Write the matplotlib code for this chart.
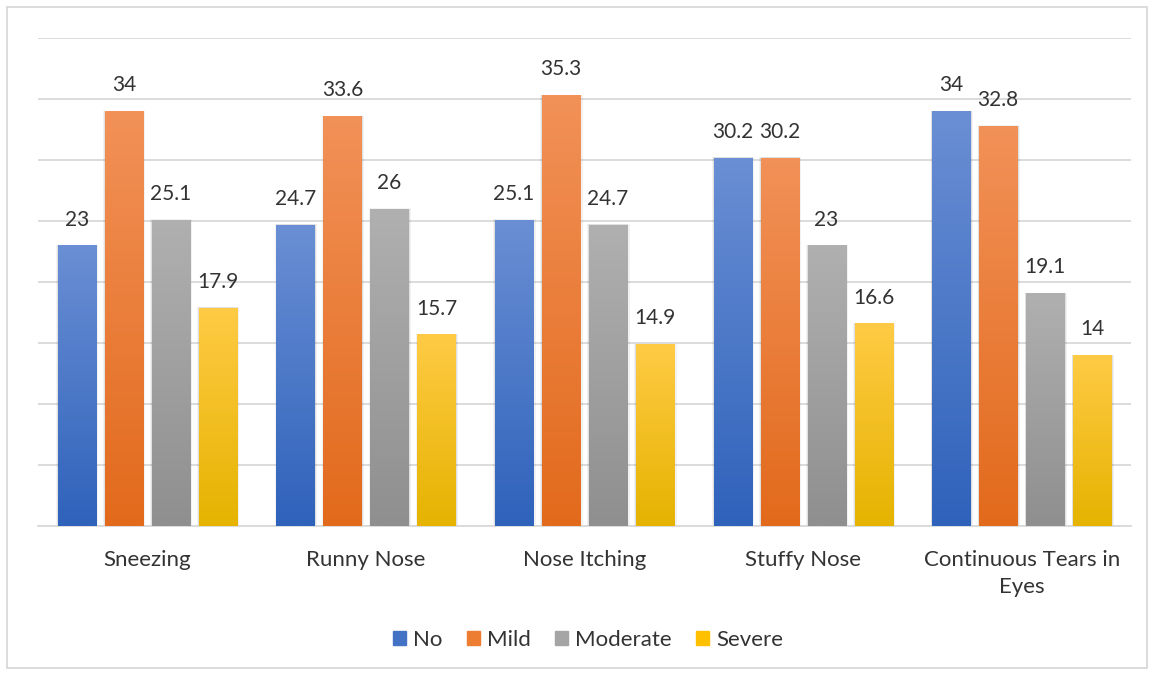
import matplotlib
matplotlib.use("Agg")
import matplotlib.pyplot as plt
import numpy as np
from matplotlib.colors import LinearSegmentedColormap
from matplotlib.patches import Rectangle

categories = ["Sneezing", "Runny Nose", "Nose Itching", "Stuffy Nose",
              "Continuous Tears in\nEyes"]
no = [23, 24.7, 25.1, 30.2, 34]
mild = [34, 33.6, 35.3, 30.2, 32.8]
moderate = [25.1, 26, 24.7, 23, 19.1]
severe = [17.9, 15.7, 14.9, 16.6, 14]
series = [("No", no), ("Mild", mild), ("Moderate", moderate), ("Severe", severe)]

# (top colour, bottom colour) for each series gradient
grads = [("#6a8fd4", "#2f62bb"),
         ("#f29158", "#e26a1c"),
         ("#b0b0b0", "#8f8f8f"),
         ("#ffcb45", "#e5b300")]
solid = ["#4472c4", "#ed7d31", "#a5a5a5", "#ffc000"]
txt = "#333333"

plt.rcParams["font.family"] = ["Lato", "DejaVu Sans"]

fig = plt.figure(figsize=(11.5, 6.76), dpi=100)
ax = fig.add_axes([38 / 1150, 1 - 526 / 676, (1131 - 38) / 1150, (526 - 38) / 676])

x = np.arange(len(categories))
width = 0.174
pitch = 0.215
offsets = (np.arange(4) - 1.5) * pitch

grad_img = np.linspace(1, 0, 256).reshape(-1, 1)
for k, (name, vals) in enumerate(series):
    cmap = LinearSegmentedColormap.from_list(name, [grads[k][1], grads[k][0]])
    bars = ax.bar(x + offsets[k], vals, width, color=solid[k], label=name,
                  zorder=3)
    for b, v in zip(bars, vals):
        bx, by = b.get_x(), b.get_y()
        bw, bh = b.get_width(), b.get_height()
        # soft shadow around each bar
        for spread, a in [(0.012, 0.05), (0.006, 0.07)]:
            ax.add_patch(Rectangle((bx - spread * 0.6, by), bw + spread * 1.6,
                                   bh + spread * 3, color="#000000", alpha=a,
                                   lw=0, zorder=2))
        im = ax.imshow(grad_img, cmap=cmap, aspect="auto",
                       extent=[bx, bx + bw, by, by + bh], zorder=4,
                       interpolation="bilinear", vmin=0, vmax=1)
        im.set_clip_path(b)
        ax.text(b.get_x() + bw / 2, v + 1.3, f"{v:g}", ha="center",
                va="bottom", fontsize=15, color=txt, zorder=5)

ax.set_xlim(-0.5, len(categories) - 0.5)
ax.set_ylim(0, 40)
ax.set_yticks(np.arange(0, 41, 5))
ax.yaxis.grid(True, color="#d9d9d9", lw=1.3)
ax.set_axisbelow(True)
ax.tick_params(axis="y", left=False, labelleft=False)
ax.tick_params(axis="x", length=0, pad=17, labelsize=16, labelcolor=txt)
ax.set_xticks(x)
ax.set_xticklabels(categories, linespacing=1.45)
for s in ["top", "left", "right"]:
    ax.spines[s].set_visible(False)
ax.spines["bottom"].set_color("#d9d9d9")
ax.spines["bottom"].set_linewidth(1.3)

handles = [Rectangle((0, 0), 1, 1, color=c) for c in solid]
fig.legend(handles, [s[0] for s in series], loc="center",
           bbox_to_anchor=(588 / 1150, 1 - 640 / 676), ncol=4, frameon=False,
           fontsize=16, handlelength=0.6, handleheight=0.6,
           handletextpad=0.3, columnspacing=1.1, labelcolor=txt)

# outer chart border
fig.add_artist(Rectangle((7 / 1150, 8 / 676), 1140 / 1150, 661 / 676,
                         transform=fig.transFigure, fill=False,
                         edgecolor="#d9d9d9", lw=1.3))

fig.savefig("out.png", dpi=100)
